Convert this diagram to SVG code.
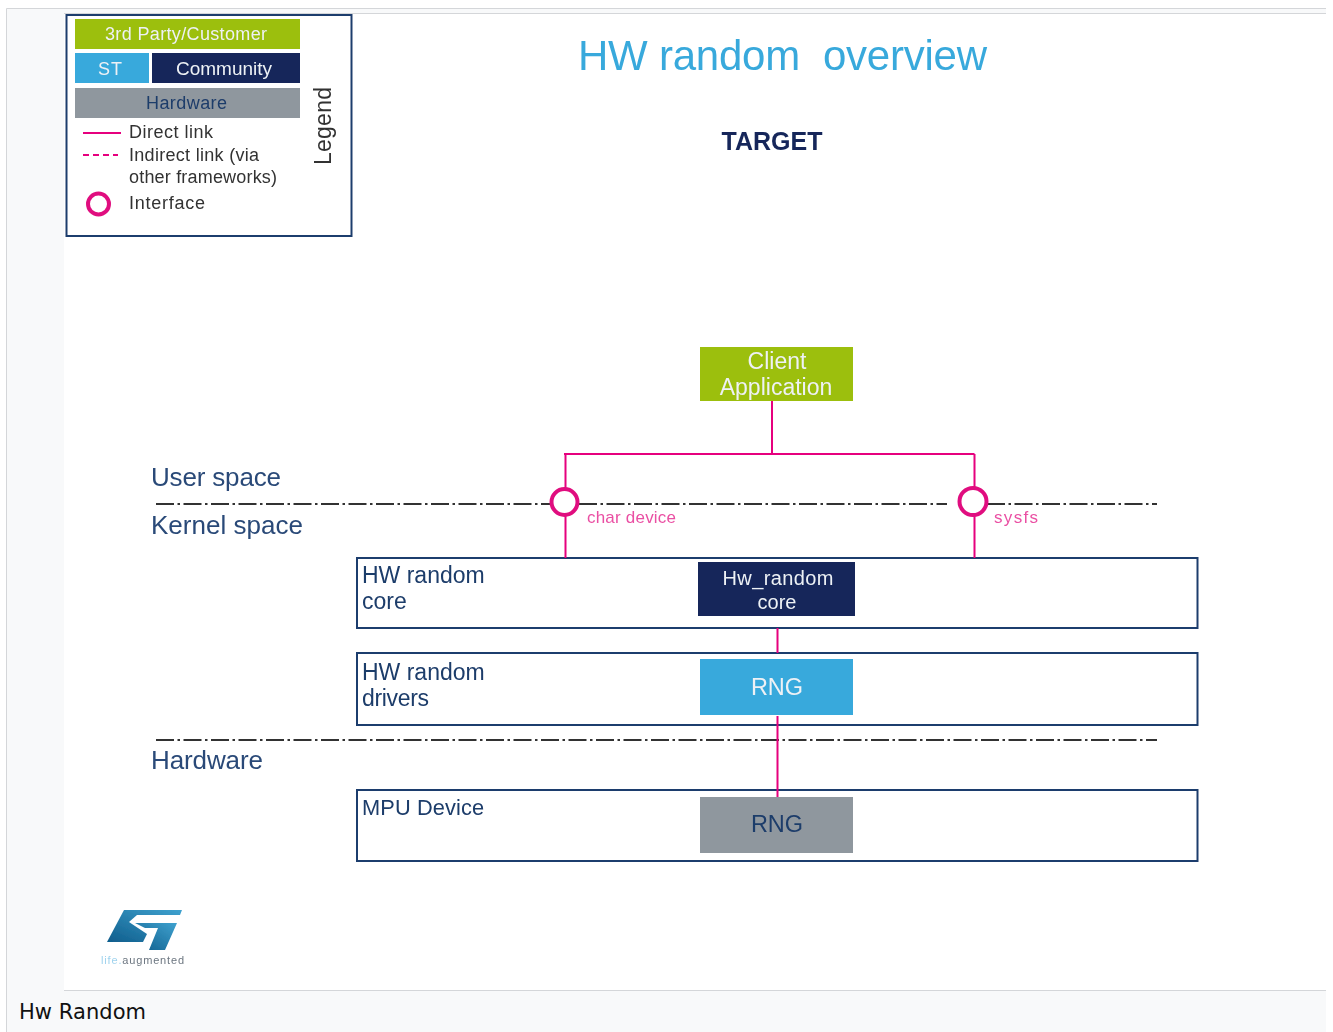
<svg xmlns="http://www.w3.org/2000/svg" width="1333" height="1032" viewBox="0 0 1333 1032">
<style>
text{font-family:"Liberation Sans",Arial,sans-serif}
.box{fill:#fff;stroke:#1f3d6d;stroke-width:2}
.l{font-size:23px;fill:#1d3c6a}
.s{font-size:26px;fill:#2a4a78}
.w{fill:#eef1f5;text-anchor:middle}
.lg{font-size:18px;fill:#333}
.lk{stroke:#e6007e;stroke-width:2;fill:none}
.ifc{stroke:#e0107f;stroke-width:4;fill:#fff}
.sep{stroke:#333;stroke-width:2;stroke-dasharray:18 3.500 2.500 3.500;fill:none}
.pink{font-size:17px;fill:#ea4fa3}
</style>
<defs>
<linearGradient id="st" x1="0" y1="1" x2="1" y2="0"><stop offset="0" stop-color="#0f5d8c"/><stop offset="1" stop-color="#3fa2cf"/></linearGradient>
<filter id="soft" filterUnits="userSpaceOnUse" x="0" y="0" width="1333" height="1032"><feGaussianBlur stdDeviation="0.45"/></filter>
</defs>
<g id="page">
<rect width="1333" height="1032" fill="#fff"/>
<rect x="7" y="8" width="1319" height="1024" fill="#f8f9fa"/>
<rect x="64" y="14" width="1262" height="976" fill="#fff"/>
<path d="M6.500 1032V8.500H1326M64 13.500H1326M64 990.500H1326" fill="none" stroke="#d4d6d9"/>
</g>
<g id="diagram" filter="url(#soft)">
<g id="legend">
<rect x="66.500" y="15" width="285" height="221" fill="#fff" stroke="#1f3d6d" stroke-width="2"/>
<rect x="75" y="19" width="225" height="30" fill="#9cbf0c"/>
<text x="186" y="40" class="w" font-size="18" textLength="162">3rd Party/Customer</text>
<rect x="75" y="53" width="74" height="30" fill="#39a9dc"/>
<text x="110" y="75" class="w" font-size="18" textLength="24">ST</text>
<rect x="152" y="53" width="148" height="30" fill="#14275a"/>
<text x="224" y="75" class="w" font-size="19" textLength="96">Community</text>
<rect x="75" y="88" width="225" height="30" fill="#8f979e"/>
<text x="186.500" y="109" font-size="18" fill="#1d3c6a" text-anchor="middle" textLength="81">Hardware</text>
<path class="lk" d="M83 133H121"/>
<path class="lk" d="M83 155H118" stroke-dasharray="6 4"/>
<text x="129" y="138" class="lg" textLength="84">Direct link</text>
<text x="129" y="161" class="lg" textLength="130">Indirect link (via</text>
<text x="129" y="183" class="lg" textLength="148">other frameworks)</text>
<circle cx="98.500" cy="204" r="10.500" class="ifc"/>
<text x="129" y="209" class="lg" textLength="76">Interface</text>
<text transform="translate(331 165) rotate(-90)" font-size="23" fill="#333" textLength="78">Legend</text>
</g>
<g id="titles">
<text x="578" y="70" font-size="42" fill="#39a9dc" xml:space="preserve" textLength="409">HW random  overview</text>
<text x="772" y="150" font-size="25" font-weight="700" fill="#14275a" text-anchor="middle">TARGET</text>
<text x="151" y="486" class="s" textLength="130">User space</text>
<text x="151" y="534" class="s" textLength="152">Kernel space</text>
<text x="151" y="769" class="s" textLength="112">Hardware</text>
</g>
<g id="separators">
<path class="sep" d="M156 504H551"/>
<path class="sep" d="M579 504H947"/>
<path class="sep" d="M987 504H1157"/>
<path class="sep" d="M156 740H1157"/>
</g>
<g id="hw-random-core">
<rect x="357" y="558" width="840.500" height="70" class="box"/>
<text x="362" y="583" class="l">HW random</text>
<text x="362" y="609" class="l">core</text>
</g>
<g id="hw-random-drivers">
<rect x="357" y="653" width="840.500" height="72" class="box"/>
<text x="362" y="680" class="l">HW random</text>
<text x="362" y="706" class="l" textLength="67">drivers</text>
</g>
<g id="mpu-device">
<rect x="357" y="790" width="840.500" height="71" class="box"/>
<text x="362" y="815" class="l" style="font-size:21.800px" textLength="122">MPU Device</text>
</g>
<g id="connectors">
<path class="lk" d="M772 401V454M564 454H974.500M565.500 454V558M974.500 454V558M777.500 628V653M777.500 716V797"/>
</g>
<g id="client-application">
<rect x="700" y="347" width="153" height="54" fill="#9cbf0c"/>
<text x="777" y="369" class="w" font-size="23">Client</text>
<text x="776" y="395" class="w" font-size="23">Application</text>
</g>
<g id="hw-random-core-block">
<rect x="698" y="562" width="157" height="54" fill="#14275a"/>
<text x="778" y="585" class="w" font-size="20" textLength="111">Hw_random</text>
<text x="777" y="609" class="w" font-size="20">core</text>
</g>
<g id="rng-driver">
<rect x="700" y="659" width="153" height="56" fill="#39a9dc"/>
<text x="777" y="695" class="w" font-size="23.500">RNG</text>
</g>
<g id="rng-hw">
<rect x="700" y="797" width="153" height="56" fill="#8f979e"/>
<text x="777" y="832" font-size="23.500" fill="#1d3c6a" text-anchor="middle">RNG</text>
</g>
<g id="char-device">
<circle cx="564.500" cy="502" r="13" class="ifc"/>
<text x="587" y="523" class="pink" textLength="89">char device</text>
</g>
<g id="sysfs">
<circle cx="973" cy="501.500" r="13.500" class="ifc"/>
<text x="994" y="523" class="pink" textLength="44">sysfs</text>
</g>
<g id="logo">
<path d="M124 910H182L180 915H137L129 922L147 934L143 942H107Z" fill="url(#st)"/>
<path d="M135 923H177L165 950H149L158 928H145Z" fill="url(#st)"/>
<text x="101" y="964" font-size="11" fill="#6c7680" textLength="83"><tspan fill="#9fd3ee">life.</tspan>augmented</text>
</g>
</g>
<text id="caption" x="19" y="1019" font-size="21" fill="#111" style="font-family:'DejaVu Sans',sans-serif" textLength="127">Hw Random</text>
</svg>
